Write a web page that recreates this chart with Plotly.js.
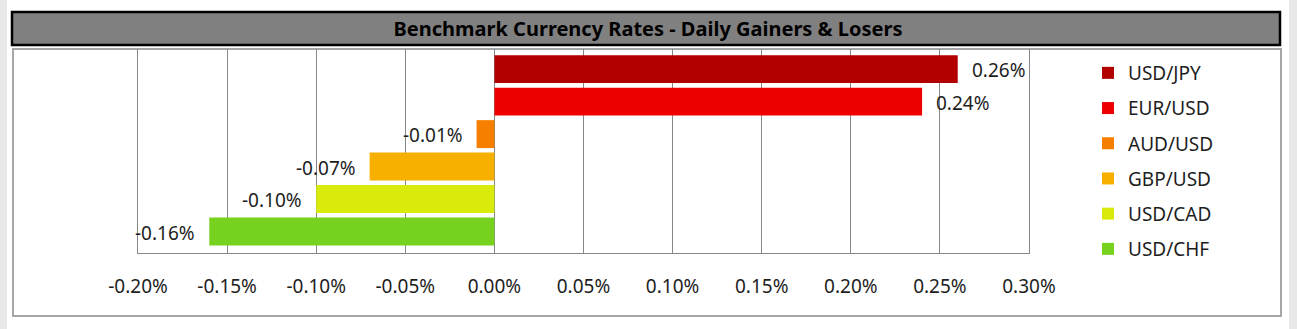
<!DOCTYPE html>
<html>
<head>
<meta charset="utf-8">
<script src="https://cdn.plot.ly/plotly-3.0.1.min.js"></script>
<style>html,body{margin:0;padding:0;background:#fff;}#chart{width:1297px;height:329px;}</style>
</head>
<body>
<div id="chart"></div>
<script>
const pairs = ["USD/JPY", "EUR/USD", "AUD/USD", "GBP/USD", "USD/CAD", "USD/CHF"];
const changes = [0.26, 0.24, -0.01, -0.07, -0.10, -0.16];
const colors = ["#B20000", "#EE0000", "#F77F00", "#F8B000", "#D8EB0A", "#76D21E"];
const tickValues = [-0.20, -0.15, -0.10, -0.05, 0.00, 0.05, 0.10, 0.15, 0.20, 0.25, 0.30];
const tickLabels = ["-0.20%", "-0.15%", "-0.10%", "-0.05%", "0.00%", "0.05%", "0.10%", "0.15%", "0.20%", "0.25%", "0.30%"];
const chartTitle = "Benchmark Currency Rates - Daily Gainers & Losers";

const W = 1297, H = 329;
const L = 138, R = 1029, T = 49, B = 253;
const px = x => (x - L) / (R - L);
const py = y => (B - y) / (B - T);

const FONT = "Noto Sans, Open Sans, sans-serif";

const traces = pairs.map((p, i) => ({
  type: "bar",
  orientation: "h",
  name: p,
  x: [changes[i]],
  y: [p],
  width: 0.86,
  marker: {color: colors[i]},
  legendgroup: p,
  hoverinfo: "x+name"
}));

const annotations = pairs.map((p, i) => ({
  x: changes[i], y: p, xref: "x", yref: "y",
  text: changes[i].toFixed(2) + "%",
  showarrow: false,
  xanchor: changes[i] >= 0 ? "left" : "right",
  xshift: changes[i] >= 0 ? 12 : -12,
  yshift: -1,
  font: {family: FONT, size: 19, color: "#1E1E1E"}
}));

const shapes = [
  {type: "rect", xref: "paper", yref: "paper", x0: px(0), x1: px(7), y0: py(0), y1: py(329), fillcolor: "#E8E8E8", line: {width: 0}, layer: "below"},
  {type: "rect", xref: "paper", yref: "paper", x0: px(1289), x1: px(1297), y0: py(0), y1: py(329), fillcolor: "#E8E8E8", line: {width: 0}, layer: "below"},
  {type: "rect", xref: "paper", yref: "paper", x0: px(13), x1: px(1281), y0: py(49), y1: py(316), fillcolor: "rgba(0,0,0,0)", line: {color: "#A6A6A6", width: 2}, layer: "below"},
  {type: "rect", xref: "paper", yref: "paper", x0: px(12), x1: px(1280), y0: py(12), y1: py(45), fillcolor: "#808080", line: {color: "#000000", width: 2.5}, layer: "above"}
];

const layout = {
  width: W, height: H,
  margin: {l: L, r: W - R, t: T, b: H - B, pad: 0},
  paper_bgcolor: "#FFFFFF",
  plot_bgcolor: "rgba(0,0,0,0)",
  barmode: "overlay",
  showlegend: true,
  title: {
    text: "<b>" + chartTitle + "</b>",
    xref: "container", yref: "container",
    x: 648 / W, y: 1 - 29 / H, xanchor: "center", yanchor: "middle",
    font: {family: FONT, size: 20, color: "#000000"}
  },
  xaxis: {
    range: [-0.20, 0.30],
    tickmode: "array",
    tickvals: tickValues,
    ticktext: tickLabels,
    showgrid: true, gridcolor: "#878787", gridwidth: 1,
    zeroline: false,
    showline: true, linecolor: "#878787", linewidth: 1,
    ticks: "", ticklabelstandoff: 16,
    tickfont: {family: FONT, size: 19, color: "#1E1E1E"},
    fixedrange: true
  },
  yaxis: {
    type: "category",
    categoryorder: "array",
    categoryarray: pairs,
    range: [5.66, -0.62],
    showticklabels: false,
    showgrid: false, zeroline: false,
    showline: true, mirror: true, linecolor: "#878787", linewidth: 1,
    ticks: "",
    fixedrange: true
  },
  legend: {
    x: px(1088), xanchor: "left",
    y: py(54), yanchor: "top",
    traceorder: "grouped",
    tracegroupgap: 7.5,
    font: {family: FONT, size: 19, color: "#1E1E1E"},
    bgcolor: "rgba(0,0,0,0)",
    itemclick: false, itemdoubleclick: false
  },
  shapes: shapes,
  annotations: annotations
};

Plotly.newPlot("chart", traces, layout, {displayModeBar: false, staticPlot: true});
</script>
</body>
</html>
